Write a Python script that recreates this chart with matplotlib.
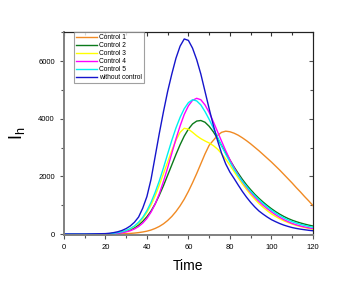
import matplotlib
matplotlib.use("Agg")
import matplotlib.pyplot as plt
from matplotlib.ticker import MultipleLocator, NullFormatter

plt.rcParams['font.family'] = ['Liberation Sans', 'DejaVu Sans']

t = [0, 10] + list(range(20, 121, 2))

control1 = [0, 0,
            0, 1, 2, 4, 8, 14, 22, 34, 50, 72, 100, 140, 195, 265, 355, 470, 610,
            780, 980, 1210, 1480, 1780, 2100, 2440, 2780, 3080, 3250, 3420, 3530,
            3570, 3550, 3500, 3430, 3340, 3240, 3130, 3010, 2890, 2760, 2630, 2500,
            2360, 2220, 2070, 1920, 1770, 1610, 1460, 1300, 1150, 990]
control2 = [0, 0,
            3, 9, 20, 36, 60, 95, 145, 215, 310, 440, 600, 800, 1050, 1350, 1680,
            2040, 2400, 2760, 3100, 3400, 3640, 3820, 3920, 3940, 3880, 3740, 3550,
            3320, 3070, 2820, 2570, 2330, 2110, 1900, 1710, 1540, 1380, 1240, 1110,
            990, 880, 780, 690, 610, 540, 480, 430, 385, 345, 310, 280]
control3 = [0, 0,
            4, 12, 26, 48, 78, 120, 180, 265, 380, 540, 750, 1010, 1330, 1700, 2100,
            2500, 2900, 3250, 3530, 3670, 3640, 3530, 3410, 3310, 3230, 3160, 3070,
            2950, 2790, 2600, 2390, 2170, 1950, 1740, 1550, 1370, 1210, 1060, 930,
            810, 700, 610, 530, 460, 400, 345, 300, 260, 225, 195, 165]
control4 = [0, 0,
            2, 6, 14, 27, 45, 75, 115, 175, 260, 380, 540, 760, 1040, 1400, 1830,
            2300, 2800, 3300, 3750, 4150, 4450, 4640, 4710, 4660, 4480, 4220, 3900,
            3560, 3220, 2890, 2580, 2300, 2050, 1820, 1620, 1440, 1280, 1130, 1000,
            880, 770, 670, 580, 500, 430, 370, 320, 280, 245, 215, 190]
control5 = [0, 0,
            5, 14, 28, 50, 80, 125, 190, 280, 410, 580, 810, 1100, 1450, 1850, 2300,
            2780, 3250, 3680, 4050, 4350, 4560, 4660, 4620, 4480, 4250, 3980, 3680,
            3370, 3060, 2770, 2500, 2250, 2030, 1830, 1650, 1480, 1330, 1190, 1060,
            940, 830, 730, 640, 560, 490, 430, 380, 335, 300, 265, 235]
no_control = [0, 0,
              15, 28, 50, 80, 125, 190, 280, 410, 590, 900, 1300, 1900, 2700, 3500,
              4250, 4950, 5550, 6100, 6520, 6770, 6720, 6450, 6050, 5550, 4950, 4350,
              3780, 3250, 2800, 2430, 2150, 1930, 1700, 1480, 1280, 1100, 940, 800,
              690, 590, 500, 430, 365, 310, 265, 225, 195, 170, 150, 130, 115]

series = [
    ("Control 1", control1, "#F08A24"),
    ("Control 2", control2, "#0A7A1A"),
    ("Control 3", control3, "#FFFF00"),
    ("Control 4", control4, "#FF00FF"),
    ("Control 5", control5, "#00F0F0"),
    ("without control", no_control, "#1515CC"),
]

fig = plt.figure(figsize=(3.63, 2.81), dpi=100)
ax = fig.add_axes([0.176, 0.164, 0.686, 0.721])

for label, vals, col in series:
    ax.plot(t, vals, color=col, lw=1.0, label=label)

ax.set_xlim(0, 120)
ax.set_ylim(-30, 7000)
ax.xaxis.set_major_locator(MultipleLocator(20))
ax.xaxis.set_minor_locator(MultipleLocator(10))
ax.yaxis.set_major_locator(MultipleLocator(2000))
ax.yaxis.set_minor_locator(MultipleLocator(1000))
ax.tick_params(axis='both', which='both', labelsize=5.5, direction='out',
               color='#555555', width=0.8)
ax.tick_params(which='major', length=3)
ax.tick_params(which='minor', length=2)

# inward ticks on top and right
top = ax.secondary_xaxis('top')
top.xaxis.set_major_locator(MultipleLocator(20))
top.xaxis.set_minor_locator(MultipleLocator(10))
top.xaxis.set_major_formatter(NullFormatter())
top.tick_params(which='both', direction='in', color='#333333', width=0.8)
top.tick_params(which='major', length=3)
top.tick_params(which='minor', length=2)
right = ax.secondary_yaxis('right')
right.yaxis.set_major_locator(MultipleLocator(2000))
right.yaxis.set_minor_locator(MultipleLocator(1000))
right.yaxis.set_major_formatter(NullFormatter())
right.tick_params(which='both', direction='in', color='#555555', width=0.8)
right.tick_params(which='major', length=3)
right.tick_params(which='minor', length=2)
top.spines['top'].set_color('#222222')
top.spines['top'].set_linewidth(0.8)
right.spines['right'].set_color('#666666')
right.spines['right'].set_linewidth(0.8)

for side in ['left', 'bottom']:
    ax.spines[side].set_color('#808080')
    ax.spines[side].set_linewidth(1.4)
for side in ['top', 'right']:
    ax.spines[side].set_color('#222222')
    ax.spines[side].set_linewidth(0.8)

ax.set_xlabel("Time", fontsize=10, labelpad=6)
ax.set_ylabel(r"$\mathregular{I_h}$", fontsize=13, labelpad=8)

leg = ax.legend(loc='upper left', bbox_to_anchor=(0.04, 1.0), fontsize=4.8,
                frameon=True, fancybox=False, edgecolor='#888888',
                handlelength=3.2, handletextpad=0.3, borderpad=0.3,
                labelspacing=0.15, borderaxespad=0.0)
leg.get_frame().set_linewidth(0.8)

fig.savefig("out.png", dpi=100)
